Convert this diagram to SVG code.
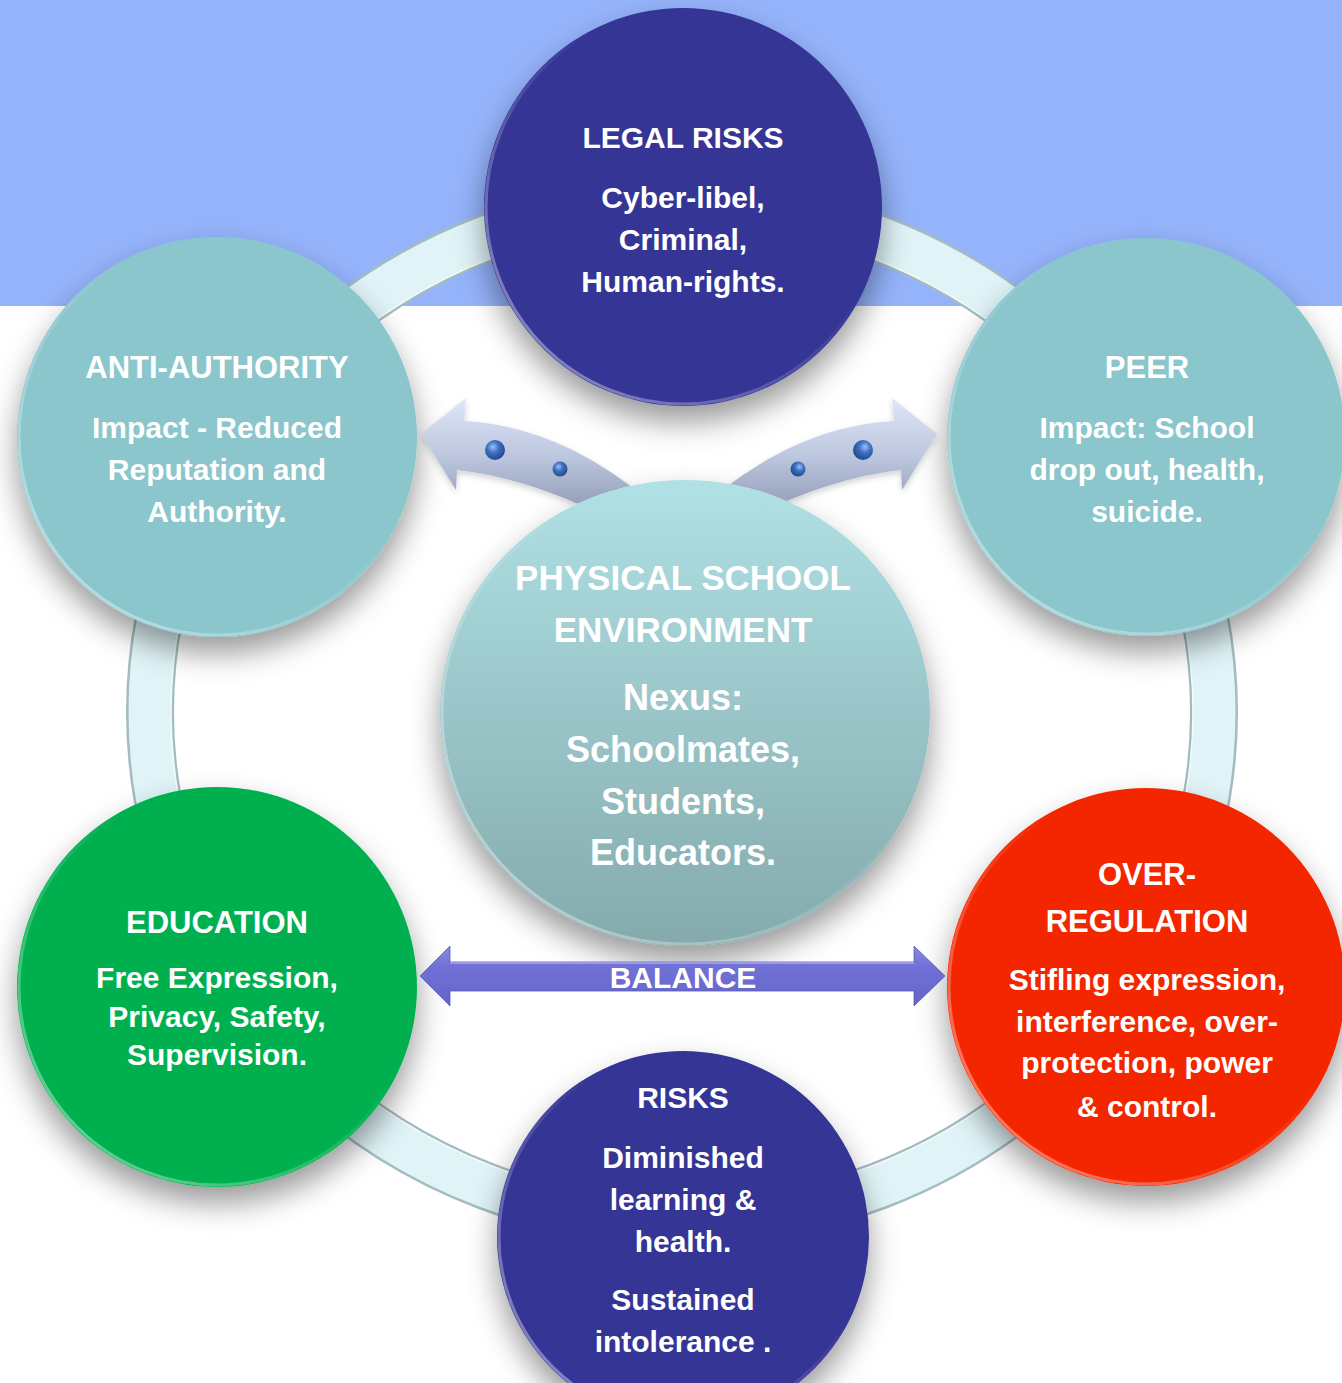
<svg xmlns="http://www.w3.org/2000/svg" width="1342" height="1383" viewBox="0 0 1342 1383">
  <style>
    .t { font-family: "Liberation Sans", Arial, sans-serif; font-weight: bold; fill: #ffffff; text-anchor: middle; }
    .s30 { font-size: 30px; }
    .s31 { font-size: 31px; }
    .s35 { font-size: 35px; }
    .s36 { font-size: 36px; }
    .rim { fill: none; stroke: url(#rim); stroke-width: 3; }
  </style>
  <defs>
    <filter id="shadow" x="-30%" y="-30%" width="160%" height="170%">
      <feDropShadow dx="0" dy="16" stdDeviation="15" flood-color="#000000" flood-opacity="0.4"/>
    </filter>
    <filter id="softShadow" x="-20%" y="-40%" width="140%" height="180%">
      <feDropShadow dx="0" dy="3" stdDeviation="3" flood-color="#000000" flood-opacity="0.18"/>
    </filter>
    <linearGradient id="rim" x1="0" y1="1" x2="1" y2="0">
      <stop offset="0" stop-color="#ffffff" stop-opacity="0.5"/>
      <stop offset="0.45" stop-color="#ffffff" stop-opacity="0.12"/>
      <stop offset="0.6" stop-color="#ffffff" stop-opacity="0"/>
    </linearGradient>
    <linearGradient id="hubFill" x1="0" y1="0" x2="0" y2="1">
      <stop offset="0" stop-color="#b0e1e5"/>
      <stop offset="1" stop-color="#84aaac"/>
    </linearGradient>
    <linearGradient id="curveFill" gradientUnits="userSpaceOnUse" x1="0" y1="398" x2="0" y2="515">
      <stop offset="0" stop-color="#dfe7f7"/>
      <stop offset="0.5" stop-color="#bcc6de"/>
      <stop offset="1" stop-color="#8d97b3"/>
    </linearGradient>
    <radialGradient id="dot" cx="0.4" cy="0.35" r="0.65">
      <stop offset="0" stop-color="#9cc0f0"/>
      <stop offset="0.45" stop-color="#3d70c4"/>
      <stop offset="1" stop-color="#234a8c"/>
    </radialGradient>
    <linearGradient id="balanceFill" x1="0" y1="0" x2="0" y2="1">
      <stop offset="0" stop-color="#8a8ae0"/>
      <stop offset="0.35" stop-color="#7070d6"/>
      <stop offset="1" stop-color="#6464c8"/>
    </linearGradient>
    <!-- everything except the hub ellipse -->
    <clipPath id="outsideHub">
      <path clip-rule="evenodd" d="M0 0 H1342 V1383 H0 Z M440 713 A245 233 0 1 0 930 713 A245 233 0 1 0 440 713 Z"/>
    </clipPath>
  </defs>

  <!-- backdrop -->
  <rect x="0" y="0" width="1342" height="1383" fill="#ffffff"/>
  <rect x="0" y="0" width="1342" height="306" fill="#95b3fb"/>

  <!-- cycle ring behind the nodes -->
  <g id="ring">
    <ellipse cx="682" cy="712" rx="532" ry="510" fill="none" stroke="#a3bcc0" stroke-width="48"/>
    <ellipse cx="682" cy="712" rx="532" ry="510" fill="none" stroke="#e0f4f8" stroke-width="43"/>
    <ellipse cx="682" cy="712" rx="511" ry="489" fill="none" stroke="#ffffff" stroke-width="1.5" stroke-opacity="0.7"/>
  </g>

  <g id="node-legal">
    <circle cx="683" cy="207" r="199" fill="#343496" filter="url(#shadow)"/>
    <circle class="rim" cx="683" cy="207" r="197"/>
    <text class="t s30" x="683" y="148">LEGAL RISKS</text>
    <text class="t s30" x="683" y="208">Cyber-libel,</text>
    <text class="t s30" x="683" y="250">Criminal,</text>
    <text class="t s30" x="683" y="292">Human-rights.</text>
  </g>

  <g id="node-anti-authority">
    <circle cx="217" cy="437" r="200" fill="#8ac6cc" filter="url(#shadow)"/>
    <circle class="rim" cx="217" cy="437" r="198"/>
    <text class="t s31" x="217" y="378">ANTI-AUTHORITY</text>
    <text class="t s30" x="217" y="438">Impact - Reduced</text>
    <text class="t s30" x="217" y="480">Reputation and</text>
    <text class="t s30" x="217" y="522">Authority.</text>
  </g>

  <g id="node-peer">
    <circle cx="1146" cy="437" r="199" fill="#8ac6cc" filter="url(#shadow)"/>
    <circle class="rim" cx="1146" cy="437" r="197"/>
    <text class="t s31" x="1147" y="378">PEER</text>
    <text class="t s30" x="1147" y="438">Impact: School</text>
    <text class="t s30" x="1147" y="480">drop out, health,</text>
    <text class="t s30" x="1147" y="522">suicide.</text>
  </g>

  <g id="node-education">
    <circle cx="217" cy="987" r="200" fill="#00b050" filter="url(#shadow)"/>
    <circle class="rim" cx="217" cy="987" r="198"/>
    <text class="t s31" x="217" y="933">EDUCATION</text>
    <text class="t s30" x="217" y="988">Free Expression,</text>
    <text class="t s30" x="217" y="1027">Privacy, Safety,</text>
    <text class="t s30" x="217" y="1065">Supervision.</text>
  </g>

  <g id="node-over-regulation">
    <circle cx="1146" cy="987" r="199" fill="#f42800" filter="url(#shadow)"/>
    <circle class="rim" cx="1146" cy="987" r="197"/>
    <text class="t s31" x="1147" y="885">OVER-</text>
    <text class="t s31" x="1147" y="932">REGULATION</text>
    <text class="t s30" x="1147" y="990">Stifling expression,</text>
    <text class="t s30" x="1147" y="1032">interference, over-</text>
    <text class="t s30" x="1147" y="1073">protection, power</text>
    <text class="t s30" x="1147" y="1117">&amp; control.</text>
  </g>

  <g id="node-risks">
    <circle cx="683" cy="1237" r="186" fill="#343496" filter="url(#shadow)"/>
    <circle class="rim" cx="683" cy="1237" r="184"/>
    <text class="t s30" x="683" y="1108">RISKS</text>
    <text class="t s30" x="683" y="1168">Diminished</text>
    <text class="t s30" x="683" y="1210">learning &amp;</text>
    <text class="t s30" x="683" y="1252">health.</text>
    <text class="t s30" x="683" y="1310">Sustained</text>
    <text class="t s30" x="683" y="1352">intolerance .</text>
  </g>

  <g id="node-hub">
    <ellipse cx="685" cy="713" rx="245" ry="233" fill="url(#hubFill)" filter="url(#shadow)"/>
    <ellipse class="rim" cx="685" cy="713" rx="243" ry="231"/>
    <text class="t s35" x="683" y="590">PHYSICAL SCHOOL</text>
    <text class="t s35" x="683" y="642">ENVIRONMENT</text>
    <text class="t s36" x="683" y="710">Nexus:</text>
    <text class="t s36" x="683" y="762">Schoolmates,</text>
    <text class="t s36" x="683" y="814">Students,</text>
    <text class="t s36" x="683" y="865">Educators.</text>
  </g>

  <g id="connectors">
    <!-- curved arrows leaving the hub, tucked under its edge -->
    <g clip-path="url(#outsideHub)" filter="url(#softShadow)">
      <g id="arrow-left">
        <path d="M421 434 L466 398 L464 421 Q560 426 648 500 L612 520 Q530 478 457 470 L456 490 Z" fill="url(#curveFill)"/>
        <circle cx="495" cy="450" r="10" fill="url(#dot)"/>
        <circle cx="560" cy="469" r="7.5" fill="url(#dot)"/>
        <circle cx="618" cy="496" r="7" fill="url(#dot)"/>
      </g>
      <g id="arrow-right" transform="translate(1358 0) scale(-1 1)">
        <path d="M421 434 L466 398 L464 421 Q560 426 648 500 L612 520 Q530 478 457 470 L456 490 Z" fill="url(#curveFill)"/>
        <circle cx="495" cy="450" r="10" fill="url(#dot)"/>
        <circle cx="560" cy="469" r="7.5" fill="url(#dot)"/>
        <circle cx="618" cy="496" r="7" fill="url(#dot)"/>
      </g>
    </g>
    <!-- two-way balance arrow between education and over-regulation -->
    <g id="arrow-balance">
      <path d="M420 976 L450 946 L450 962 L914 962 L914 946 L945 976 L914 1006 L914 991 L450 991 L450 1006 Z" fill="url(#balanceFill)" stroke="#5a5ab8" stroke-width="0.8"/>
      <path d="M450 963 H914" stroke="#a8a8ee" stroke-width="1.5"/>
      <text class="t s30" x="683" y="988">BALANCE</text>
    </g>
  </g>
</svg>
